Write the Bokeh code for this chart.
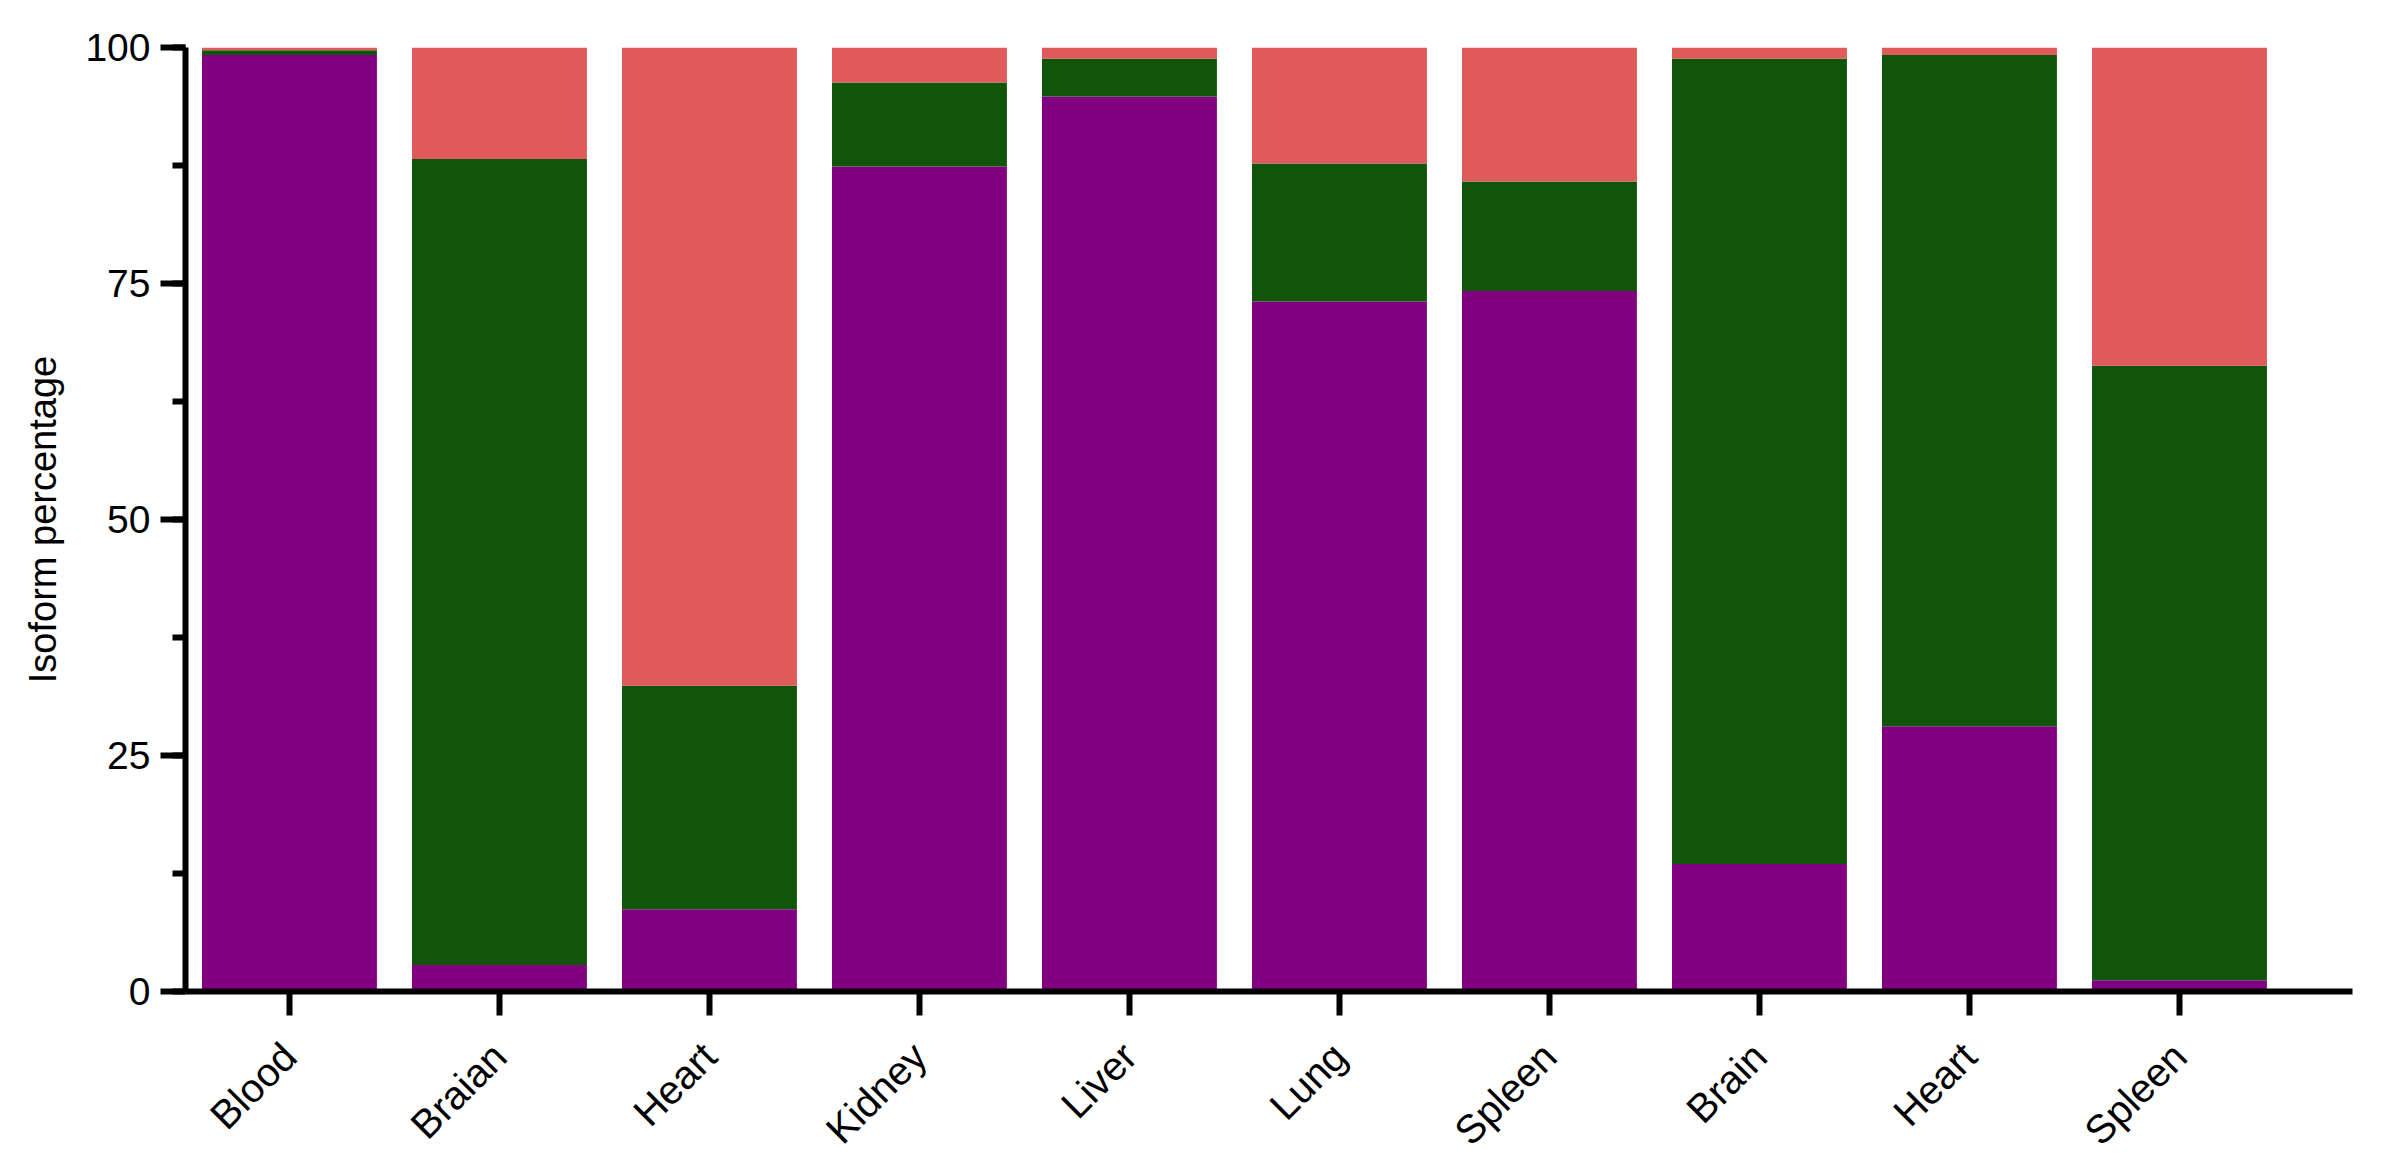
import math
from bokeh.plotting import figure
from bokeh.models import ColumnDataSource, FixedTicker, SingleIntervalTicker, Range1d
from bokeh.embed import file_html
from bokeh.resources import INLINE

tissues = ["Blood", "Braian", "Heart", "Kidney", "Liver", "Lung", "Spleen", "Brain", "Heart", "Spleen"]
isoform_a = [99.2, 2.8, 8.7, 87.4, 94.8, 73.1, 74.2, 13.5, 28.1, 1.2]   # purple
isoform_b = [0.5, 85.4, 23.7, 8.9, 4.0, 14.6, 11.6, 85.3, 71.1, 65.1]  # green
isoform_c = [0.3, 11.8, 67.6, 3.7, 1.2, 12.3, 14.2, 1.2, 0.8, 33.7]    # red
colors = ["#800080", "#10550A", "#DF5A5A"]

xs = list(range(len(tissues)))
src = ColumnDataSource(dict(x=xs, a=isoform_a, b=isoform_b, c=isoform_c))

p = figure(width=2384, height=1175, output_backend="svg", toolbar_location=None,
           x_range=Range1d(-0.495, 9.824), y_range=Range1d(0, 100),
           min_border_left=185, min_border_right=32, min_border_top=47, min_border_bottom=184)
p.vbar_stack(["a", "b", "c"], x="x", width=0.833, color=colors, line_color=None, source=src)

p.outline_line_color = None
p.xgrid.grid_line_color = None
p.ygrid.grid_line_color = None
p.background_fill_color = "white"
p.border_fill_color = "white"

FONT = "Liberation Sans"

# y axis
ya = p.yaxis[0]
ya.ticker = SingleIntervalTicker(interval=25, num_minor_ticks=2)
ya.axis_line_width = 6
ya.axis_line_color = "black"
ya.major_tick_line_width = 6
ya.minor_tick_line_width = 6
ya.major_tick_line_color = "black"
ya.minor_tick_line_color = "black"
ya.major_tick_out = 25
ya.major_tick_in = 0
ya.minor_tick_out = 13
ya.minor_tick_in = 0
ya.major_label_text_font = FONT
ya.major_label_text_font_size = "39px"
ya.major_label_text_color = "black"
ya.major_label_standoff = 10
ya.axis_label = "Isoform percentage"
ya.axis_label_text_font = FONT
ya.axis_label_text_font_size = "38px"
ya.axis_label_text_font_style = "normal"
ya.axis_label_text_color = "black"
ya.axis_label_standoff = 18

# x axis
xa = p.xaxis[0]
xa.ticker = FixedTicker(ticks=xs)
xa.major_label_overrides = {i: t for i, t in enumerate(tissues)}
xa.axis_line_width = 6
xa.axis_line_color = "black"
xa.major_tick_line_width = 6
xa.major_tick_line_color = "black"
xa.major_tick_out = 24
xa.major_tick_in = 0
xa.minor_tick_line_color = None
xa.major_label_orientation = math.pi / 4
xa.major_label_text_font = FONT
xa.major_label_text_font_size = "40px"
xa.major_label_text_color = "black"
xa.major_label_standoff = 34

open("out.html", "w").write(file_html(p, INLINE))
